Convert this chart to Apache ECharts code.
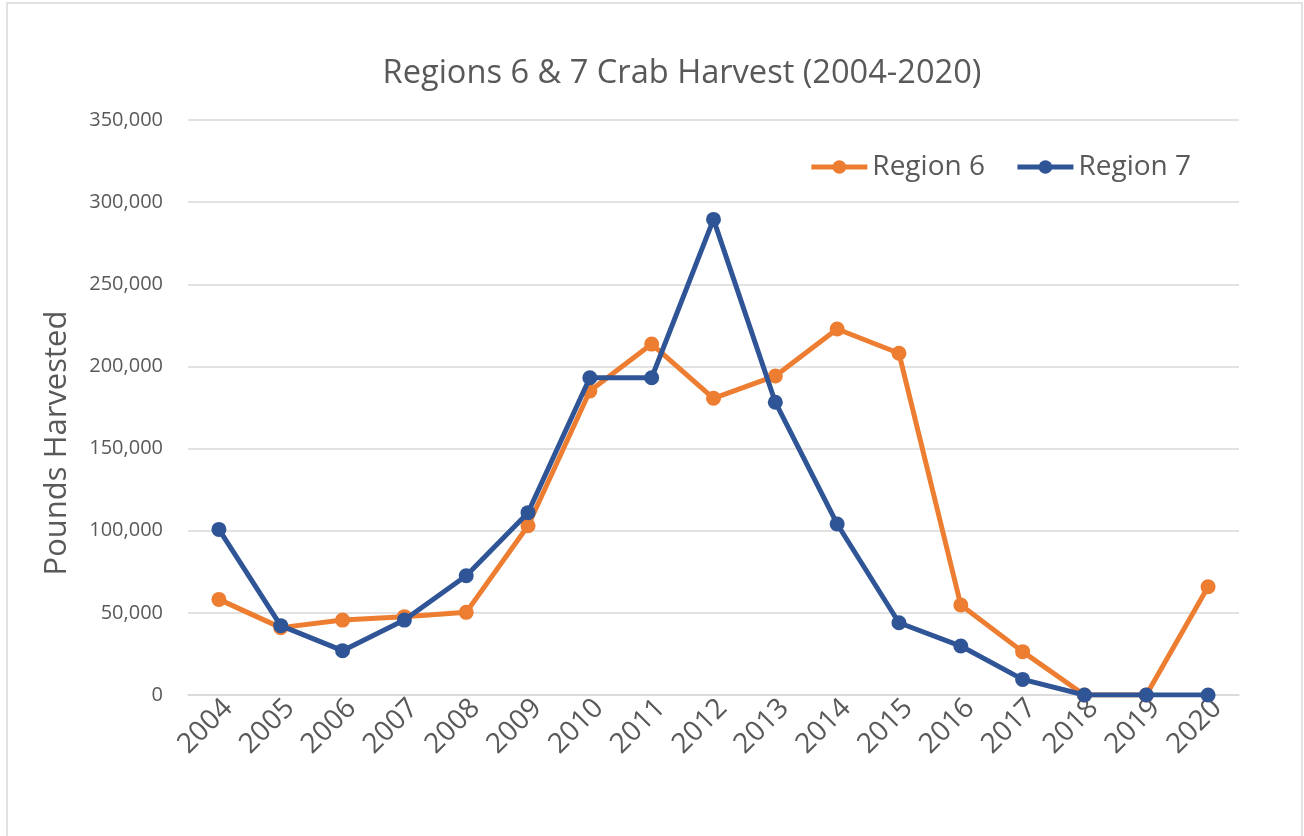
<!DOCTYPE html>
<html>
<head>
<meta charset="utf-8">
<script src="https://cdn.jsdelivr.net/npm/echarts@6/dist/echarts.min.js"></script>
<style>
html,body{margin:0;padding:0;background:#fff;}
#chart{width:1304px;height:836px;}
</style>
</head>
<body>
<div id="chart"></div>
<script>
const years = ['2004','2005','2006','2007','2008','2009','2010','2011','2012','2013','2014','2015','2016','2017','2018','2019','2020'];
const region6 = [58200, 41000, 45600, 47700, 50300, 103000, 185000, 213600, 180600, 194200, 222800, 208000, 54800, 26400, 0, 0, 65900];
const region7 = [100800, 42200, 27000, 45600, 72600, 111000, 193100, 193100, 289500, 178200, 104100, 44000, 29800, 9500, 0, 0, 0];
const yTicks = [0, 50000, 100000, 150000, 200000, 250000, 300000, 350000];

const font = 'Open Sans';
const chart = echarts.init(document.getElementById('chart'));
chart.setOption({
  backgroundColor: '#fff',
  animation: false,
  graphic: [{
    type: 'rect',
    shape: {x: 7, y: 3, width: 1295, height: 840},
    style: {fill: 'none', stroke: '#D9D9D9', lineWidth: 1.5},
    silent: true
  }, {
    type: 'text',
    x: 57, y: 443,
    rotation: Math.PI / 2,
    style: {
      text: 'Pounds Harvested',
      fontFamily: font, fontSize: 31, fill: '#595959',
      align: 'center', verticalAlign: 'middle'
    },
    silent: true
  }],
  title: {
    text: 'Regions 6 & 7 Crab Harvest (2004-2020)',
    left: 677,
    textAlign: 'center',
    top: 52,
    textStyle: {fontFamily: font, fontSize: 32.6, fontWeight: 'normal', color: '#595959'}
  },
  legend: {
    right: 108,
    top: 148,
    itemWidth: 56,
    itemHeight: 17,
    itemGap: 30,
    lineStyle: {width: 5},
    textStyle: {fontFamily: font, fontSize: 28, color: '#595959'},
    data: ['Region 6', 'Region 7']
  },
  grid: {left: 188, right: 65, top: 120, bottom: 141, containLabel: false},
  xAxis: {
    type: 'category',
    data: years,
    boundaryGap: true,
    axisLine: {show: true, lineStyle: {color: '#D9D9D9', width: 1.5}},
    axisTick: {show: false},
    axisLabel: {rotate: 45, fontFamily: font, fontSize: 28, color: '#595959', margin: 18, interval: 0, padding: [0, -13, 0, 0]}
  },
  yAxis: {
    type: 'value',
    min: 0,
    max: yTicks[yTicks.length - 1],
    interval: 50000,
    axisLine: {show: false},
    axisTick: {show: false},
    splitLine: {lineStyle: {color: '#D9D9D9', width: 1.5}},
    axisLabel: {
      fontFamily: font, fontSize: 20, color: '#595959', margin: 25,
      formatter: v => v.toLocaleString('en-US')
    }
  },
  series: [
    {
      name: 'Region 6', type: 'line', data: region6,
      symbol: 'circle', symbolSize: 15,
      itemStyle: {color: '#ED7D31'},
      lineStyle: {color: '#ED7D31', width: 5},
      z: 2
    },
    {
      name: 'Region 7', type: 'line', data: region7,
      symbol: 'circle', symbolSize: 15,
      itemStyle: {color: '#2F5597'},
      lineStyle: {color: '#2F5597', width: 5},
      z: 3
    }
  ]
});
</script>
</body>
</html>
